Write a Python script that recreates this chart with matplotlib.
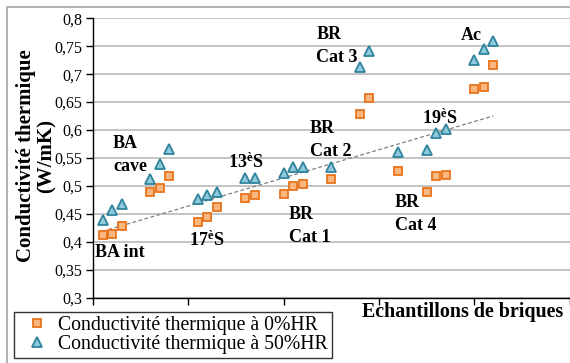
import numpy as np
import matplotlib
matplotlib.use("Agg")
import matplotlib.pyplot as plt
from matplotlib.patches import Rectangle

plt.rcParams['font.family'] = ['Liberation Serif', 'DejaVu Serif']
plt.rcParams['mathtext.fontset'] = 'custom'
plt.rcParams['mathtext.rm'] = 'Liberation Serif:bold'

# Sample index along the x axis (groups of bricks)
x_pos = [1, 2, 3, 6, 7, 8, 11, 12, 13, 16, 17, 20, 21, 22, 25,
         28, 29, 32, 35, 36, 37, 40, 41, 42]

# Thermal conductivity (W/mK) at 0% and 50% relative humidity
lambda_0 = [0.412, 0.414, 0.428, 0.489, 0.496, 0.517, 0.435, 0.445, 0.463,
            0.478, 0.484, 0.486, 0.499, 0.503, 0.512, 0.629, 0.658, 0.527,
            0.489, 0.517, 0.520, 0.673, 0.677, 0.716]
lambda_50 = [0.439, 0.457, 0.467, 0.512, 0.540, 0.567, 0.477, 0.483, 0.490,
             0.514, 0.514, 0.523, 0.534, 0.534, 0.534, 0.713, 0.742, 0.561,
             0.564, 0.595, 0.602, 0.725, 0.745, 0.760]

y_ticks = [0.3, 0.35, 0.4, 0.45, 0.5, 0.55, 0.6, 0.65, 0.7, 0.75, 0.8]
y_tick_labels = ['0,3', '0,35', '0,4', '0,45', '0,5', '0,55', '0,6',
                 '0,65', '0,7', '0,75', '0,8']

W, H = 570, 363
fig = plt.figure(figsize=(W / 100, H / 100), dpi=100)


def px(x, y):
    # pixel position (from top-left) to figure fraction
    return x / W, 1 - y / H


ax = fig.add_axes([93 / W, 1 - 297.7 / H, 476.5 / W, 279.4 / H])

# outer chart frame (only left and top edges are visible)
fig.patches.append(Rectangle(px(7.3, 420), 1.2, (420 - 7.5) / H,
                             transform=fig.transFigure, fill=False,
                             edgecolor='#a6a6a6', linewidth=1.2))

ax.set_xlim(0, 50)
ax.set_ylim(0.3, 0.8)
ax.set_xticks(range(0, 51, 10))
ax.set_xticklabels([])
ax.set_yticks(y_ticks)
ax.set_yticklabels(y_tick_labels, fontsize=11.5)
ax.tick_params(axis='both', direction='out', length=5, width=1, color='black')
ax.tick_params(axis='y', pad=3)
for s in ['top', 'right']:
    ax.spines[s].set_visible(False)
for s in ['left', 'bottom']:
    ax.spines[s].set_color('black')
    ax.spines[s].set_linewidth(1)
ax.grid(axis='y', color='#b4b4b4', linewidth=1.1)
ax.set_axisbelow(True)

# linear trend of the 0% HR series
coef = np.polyfit(x_pos, lambda_0, 1)
xt = np.array([min(x_pos), max(x_pos)])
ax.plot(xt, np.polyval(coef, xt), linestyle=(0, (3, 2)), color='#7f7f7f',
        linewidth=0.9, zorder=2)

ax.plot(x_pos, lambda_0, linestyle='none', marker='s', markersize=6,
        markerfacecolor='#f9b77f', markeredgecolor='#e8741c',
        markeredgewidth=1.3, label='Conductivité thermique à 0%HR', zorder=3)
ax.plot(x_pos, lambda_50, linestyle='none', marker='^', markersize=6.5,
        markerfacecolor='#8fc9dc', markeredgecolor='#2f849c',
        markeredgewidth=1.3, label='Conductivité thermique à 50%HR', zorder=3)

# group labels: (text lines, left px, first baseline px)
groups = [
    (['BA', 'cave'], 113, 148),
    (['BA int'], 95, 257),
    ([r'$\mathregular{17^{è}S}$'], 189, 246),
    ([r'$\mathregular{13^{è}S}$'], 228, 168),
    (['BR', 'Cat 1'], 289, 219.5),
    (['BR', 'Cat 2'], 310, 133),
    (['BR', 'Cat 3'], 316.5, 39),
    (['BR', 'Cat 4'], 395, 207),
    ([r'$\mathregular{19^{è}S}$'], 421.5, 124),
    (['Ac'], 461, 40),
]
for lines, gx, gy in groups:
    for k, line in enumerate(lines):
        fig.text(*px(gx, gy + 23 * k), line, fontsize=13, fontweight='bold',
                 ha='left', va='baseline')

fig.text(*px(362.5, 316.7), 'Echantillons de briques', fontsize=14.4,
         fontweight='bold', ha='left', va='baseline')
fig.text(*px(36, 156), 'Conductivité thermique\n(W/mK)', fontsize=15,
         fontweight='bold', rotation=90, ha='center', va='center',
         linespacing=1.05)

leg = fig.legend(loc='lower left', bbox_to_anchor=px(14, 358),
                 bbox_transform=fig.transFigure, borderaxespad=0,
                 fontsize=14.2, frameon=True, fancybox=False,
                 handlelength=1.9, handletextpad=0.15, labelspacing=0.0,
                 borderpad=0.2)
leg.get_frame().set_edgecolor('black')
leg.get_frame().set_linewidth(1)

fig.savefig('out.png', dpi=100)
